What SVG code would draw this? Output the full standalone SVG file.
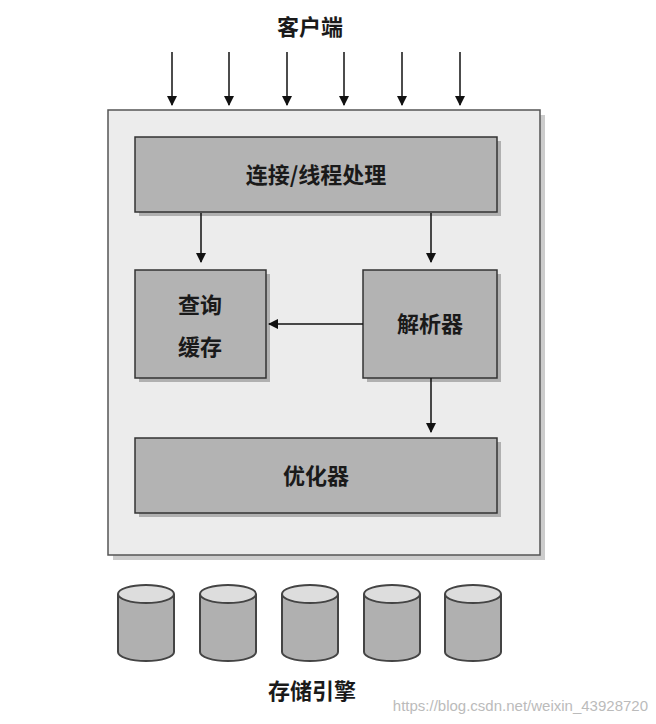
<svg xmlns="http://www.w3.org/2000/svg" width="656" height="724" viewBox="0 0 656 724">
<style>
.t{font-family:"Noto Sans CJK SC","Noto Sans",sans-serif;font-size:22px;font-weight:bold;fill:#1a1a1a;text-anchor:middle}
.box{fill:#b3b3b3;stroke:#333;stroke-width:1.5}
.sh{fill:#888;opacity:0.6}
.ln{stroke:#111;stroke-width:1.5;fill:none;marker-end:url(#a)}
.cyl{fill:#b0b0b0;stroke:#444;stroke-width:2}
</style>
<defs>
<marker id="a" viewBox="0 0 10 10" refX="9" refY="5" markerWidth="7" markerHeight="7" orient="auto"><path d="M0,0L10,5L0,10z" fill="#111"/></marker>
</defs>
<rect width="656" height="724" fill="#fff"/>
<text class="t" x="310" y="35">客户端</text>
<g id="outer">
<rect x="113" y="115" width="432" height="445" fill="#999" opacity="0.5"/>
<rect x="108" y="110" width="432" height="445" fill="#ececec" stroke="#555" stroke-width="1.5"/>
</g>
<g id="conn"><rect class="sh" x="139" y="141" width="362" height="75"/><rect class="box" x="135" y="137" width="362" height="75"/><text class="t" x="316" y="183">连接/线程处理</text></g>
<g id="cache"><rect class="sh" x="139" y="274" width="131" height="108"/><rect class="box" x="135" y="270" width="131" height="108"/><text class="t" x="200" y="313">查询</text><text class="t" x="200" y="355">缓存</text></g>
<g id="parser"><rect class="sh" x="367" y="274" width="134" height="108"/><rect class="box" x="363" y="270" width="134" height="108"/><text class="t" x="430" y="332">解析器</text></g>
<g id="opt"><rect class="sh" x="139" y="442" width="362" height="75"/><rect class="box" x="135" y="438" width="362" height="75"/><text class="t" x="316" y="484">优化器</text></g>
<g id="connectors">
<line class="ln" x1="172" y1="52" x2="172" y2="105"/>
<line class="ln" x1="229" y1="52" x2="229" y2="105"/>
<line class="ln" x1="287" y1="52" x2="287" y2="105"/>
<line class="ln" x1="344" y1="52" x2="344" y2="105"/>
<line class="ln" x1="402" y1="52" x2="402" y2="105"/>
<line class="ln" x1="460" y1="52" x2="460" y2="105"/>
<line class="ln" x1="201" y1="213" x2="201" y2="262"/>
<line class="ln" x1="431" y1="213" x2="431" y2="262"/>
<line class="ln" x1="363" y1="324" x2="269" y2="324"/>
<line class="ln" x1="431" y1="378" x2="431" y2="432"/>
</g>
<g id="engines">
<g><path class="cyl" d="M118,594V652A28,9 0 0 0 174,652V594"/><ellipse cx="146" cy="594" rx="28" ry="9" fill="#ddd" stroke="#444" stroke-width="2"/></g>
<g><path class="cyl" d="M200,594V652A28,9 0 0 0 256,652V594"/><ellipse cx="228" cy="594" rx="28" ry="9" fill="#ddd" stroke="#444" stroke-width="2"/></g>
<g><path class="cyl" d="M282,594V652A28,9 0 0 0 338,652V594"/><ellipse cx="310" cy="594" rx="28" ry="9" fill="#ddd" stroke="#444" stroke-width="2"/></g>
<g><path class="cyl" d="M364,594V652A28,9 0 0 0 420,652V594"/><ellipse cx="392" cy="594" rx="28" ry="9" fill="#ddd" stroke="#444" stroke-width="2"/></g>
<g><path class="cyl" d="M445,594V652A28,9 0 0 0 501,652V594"/><ellipse cx="473" cy="594" rx="28" ry="9" fill="#ddd" stroke="#444" stroke-width="2"/></g>
</g>
<text class="t" x="312" y="699">存储引擎</text>
<text x="648" y="711" font-family="Liberation Sans,sans-serif" font-size="15" fill="#bbb" text-anchor="end">https://blog.csdn.net/weixin_43928720</text>
</svg>
